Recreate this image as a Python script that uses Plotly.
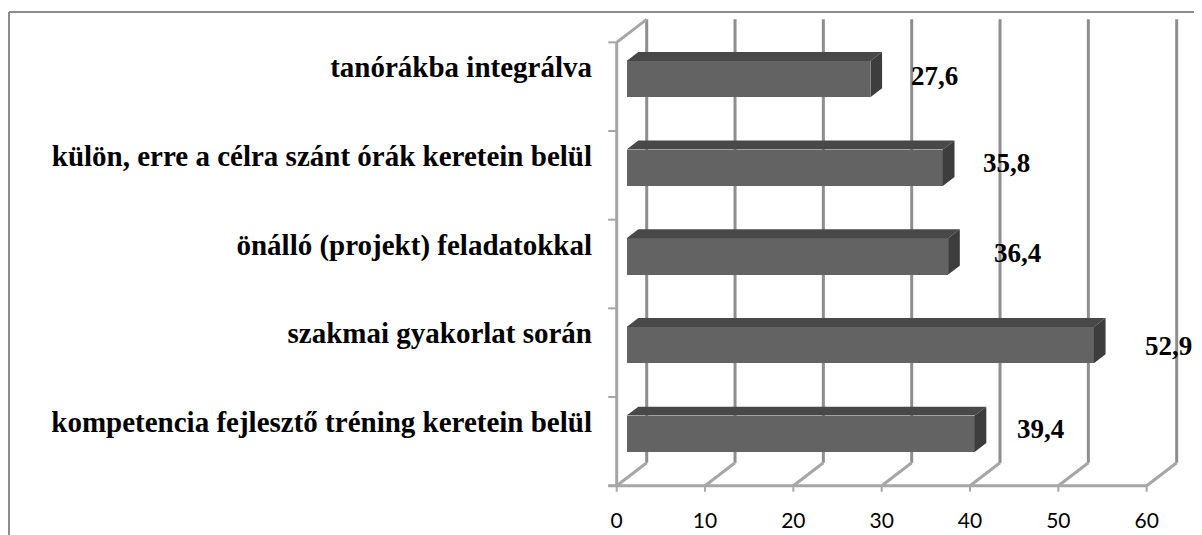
import plotly.graph_objects as go

# ---- data (bottom to top) ----
categories = [
    "kompetencia fejlesztő tréning keretein belül",
    "szakmai gyakorlat során",
    "önálló (projekt) feladatokkal",
    "külön, erre a célra szánt órák keretein belül",
    "tanórákba integrálva",
]
values = [39.4, 52.9, 36.4, 35.8, 27.6]
x_ticks = [0, 10, 20, 30, 40, 50, 60]
value_labels = [f"{v:.1f}".replace(".", ",") for v in values]

# ---- layout / styling constants (page pixels; page body has an 8px margin) ----
OFF = 8
W, H = 1202 - OFF, 535 - OFF
X0PX, PXX = 616.7 - OFF, 8.833      # pixel of x=0 on the front plane, px per unit
Y0PX, PXY = 485.7 - OFF, 88.67      # pixel of front floor, px per category
L, R, T, B = 598 - OFF, 1196 - OFF, 8 - OFF + 2, 500 - OFF
DX, DY = 30 / PXX, 23 / PXY   # depth offset of back plane (data units)
D0, D1 = 0.33, 0.72           # bar depth (fraction of full depth)
BAR_H = 0.41
LABEL_DX = [54, 63, 58, 52, 52]      # px offsets of value labels
LABEL_DY = [12, 7, 11, 12, 11]
CAT_LABEL_UP = 0.22

FRONT, TOP, SIDE = "#636363", "#484848", "#3d3d3d"
GRID, WALL = "#8e8e8e", "#a6a6a6"

xr = [(L - X0PX) / PXX, (R - X0PX) / PXX]
yr = [(Y0PX - B) / PXY, (Y0PX - T) / PXY]
n = len(categories)
xmax = x_ticks[-1]

fig = go.Figure()

shapes = []
def line(x0, y0, x1, y1, color, width, layer="below"):
    shapes.append(dict(type="line", xref="x", yref="y", x0=x0, y0=y0, x1=x1, y1=y1,
                       line=dict(color=color, width=width), layer=layer))

# back-plane vertical gridlines
for t in x_ticks:
    line(t + DX, DY, t + DX, n + DY, GRID, 3)
# floor diagonals
for t in x_ticks:
    line(t, 0, t + DX, DY, WALL, 3)
# front floor edge (axis line) and left wall
line(-8.5 / PXX, 0, xmax, 0, WALL, 3)
line(0, 0, 0, n, WALL, 3)
line(0, n, DX, n + DY, WALL, 3)
# category tick marks
for i in range(n + 1):
    line(-8.5 / PXX, i, 0, i, WALL, 2)
# value-axis tick marks
for t in x_ticks:
    line(t, 0, t, -6 / PXY, WALL, 2)

# bar top and side faces
for i, v in enumerate(values):
    c = i + 0.5
    yb, yt = c - BAR_H / 2, c + BAR_H / 2
    top = (f"M {D0*DX},{yt+D0*DY} L {v+D0*DX},{yt+D0*DY} "
           f"L {v+D1*DX},{yt+D1*DY} L {D1*DX},{yt+D1*DY} Z")
    side = (f"M {v+D0*DX},{yb+D0*DY} L {v+D0*DX},{yt+D0*DY} "
            f"L {v+D1*DX},{yt+D1*DY} L {v+D1*DX},{yb+D1*DY} Z")
    shapes.append(dict(type="path", xref="x", yref="y", path=top, fillcolor=TOP,
                       line=dict(width=0), layer="above"))
    shapes.append(dict(type="path", xref="x", yref="y", path=side, fillcolor=SIDE,
                       line=dict(width=0), layer="above"))

# outer chart border (top and left)
def px_to_paper_x(px):
    return (px - OFF - L) / (R - L)
def px_to_paper_y(py):
    return (B - (py - OFF)) / (B - T)
shapes.append(dict(type="line", xref="paper", yref="paper",
                   x0=px_to_paper_x(9), y0=px_to_paper_y(12),
                   x1=px_to_paper_x(1215), y1=px_to_paper_y(12),
                   line=dict(color="#8c8c8c", width=2)))
shapes.append(dict(type="line", xref="paper", yref="paper",
                   x0=px_to_paper_x(9), y0=px_to_paper_y(12),
                   x1=px_to_paper_x(9), y1=px_to_paper_y(545),
                   line=dict(color="#8c8c8c", width=2)))

# bar front faces
fig.add_trace(go.Bar(
    orientation="h",
    y=[i + 0.5 + D0 * DY for i in range(n)],
    x=values,
    base=[D0 * DX] * n,
    width=[BAR_H] * n,
    marker=dict(color=FRONT, line=dict(width=0)),
    hoverinfo="skip",
    showlegend=False,
))

annotations = []
for i, (v, lab) in enumerate(zip(values, value_labels)):
    annotations.append(dict(
        x=v + D1 * DX, y=i + 0.5, xref="x", yref="y", text=lab, showarrow=False,
        xanchor="center", yanchor="middle", xshift=LABEL_DX[i], yshift=LABEL_DY[i],
        font=dict(family="Liberation Serif", size=27, color="black", weight="bold"),
    ))

fig.update_layout(
    width=W, height=H, autosize=False,
    margin=dict(l=L, r=W - R, t=T, b=H - B, pad=0),
    paper_bgcolor="white", plot_bgcolor="rgba(0,0,0,0)",
    shapes=shapes, annotations=annotations,
    bargap=0, showlegend=False,
    xaxis=dict(range=xr, showgrid=False, zeroline=False, showline=False,
               tickvals=x_ticks, ticktext=[str(t) for t in x_ticks], ticks="",
               ticklabelstandoff=6,
               tickfont=dict(family="Lato", size=21, color="black"), fixedrange=True),
    yaxis=dict(range=yr, showgrid=False, zeroline=False, showline=False,
               tickvals=[i + 0.5 + CAT_LABEL_UP for i in range(n)], ticktext=categories,
               ticks="", ticklabelstandoff=5,
               tickfont=dict(family="Liberation Serif", size=29, color="black", weight="bold"),
               fixedrange=True),
)

fig.write_html("out.html")
